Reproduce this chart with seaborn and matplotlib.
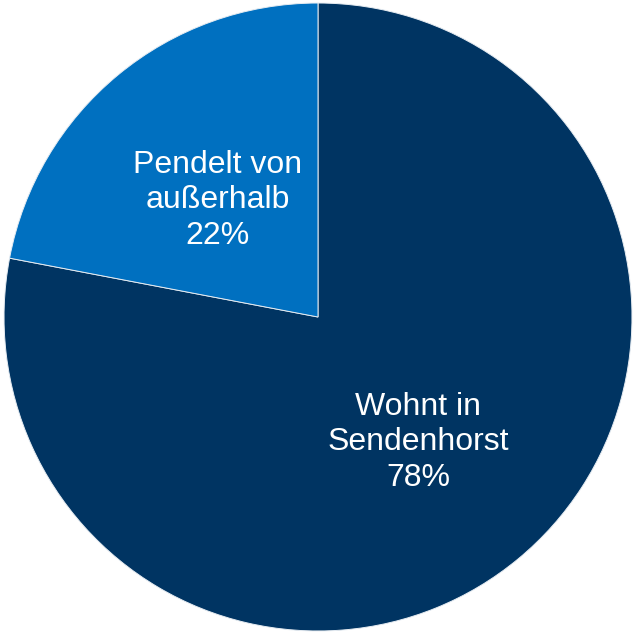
import matplotlib
matplotlib.use("Agg")
import matplotlib.pyplot as plt
import seaborn as sns

categories = ["Wohnt in\nSendenhorst", "Pendelt von\naußerhalb"]
shares = [78, 22]
colors = ["#003462", "#0070C0"]

sns.set_theme(style="white")
plt.rcParams["font.family"] = ["Liberation Sans", "DejaVu Sans"]

fig = plt.figure(figsize=(6.36, 6.34), dpi=100)
ax = fig.add_axes([0.0, 0.0, 1.0, 1.0])

labels = [f"{c}\n{v}%" for c, v in zip(categories, shares)]
wedges, texts = ax.pie(
    shares,
    labels=labels,
    colors=colors,
    startangle=90,
    counterclock=False,
    labeldistance=0.5,
    radius=1.0,
    wedgeprops=dict(edgecolor="#e6ecf2", linewidth=0.7),
    textprops=dict(color="white", fontsize=23, ha="center", va="center",
                   multialignment="center", linespacing=1.25),
)
# nudge the labels slightly downward inside their wedges
for t in texts:
    x, y = t.get_position()
    t.set_position((x, y - 0.014))

ax.set_aspect("equal")
ax.set_xlim(-1.0128, 1.0128)
ax.set_ylim(-1.0096, 1.0096)

fig.savefig("out.png", dpi=100, facecolor="white")
